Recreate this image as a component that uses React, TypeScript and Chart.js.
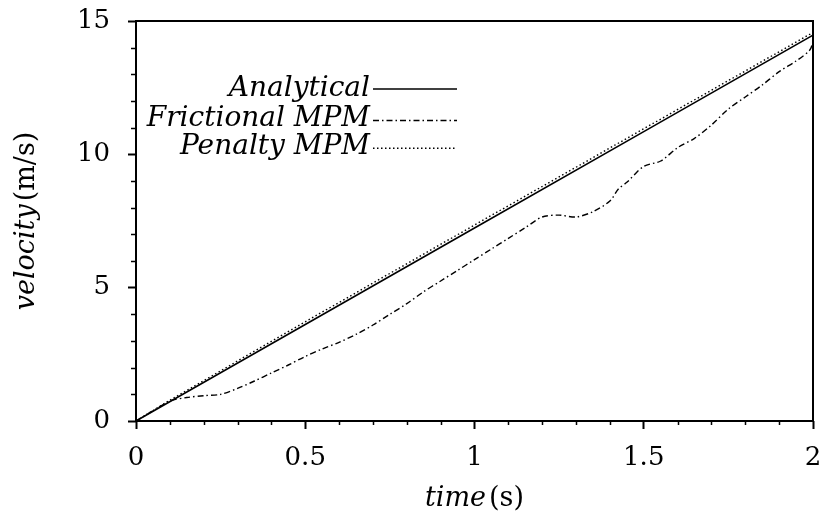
import React, { useEffect, useRef } from "react";
import { Chart, registerables } from "chart.js";

Chart.register(...registerables);

// ---- data ----
const seriesLabels = ["Analytical", "Frictional MPM", "Penalty MPM"];

const timeAnalytical = [0, 0.5, 1, 1.5, 2];
const velAnalytical = [0, 3.62, 7.24, 10.85, 14.47];

const timeFrictional = [
  0, 0.05, 0.1, 0.15, 0.2, 0.25, 0.3, 0.35, 0.4, 0.45, 0.5, 0.55, 0.6, 0.65,
  0.7, 0.75, 0.8, 0.85, 0.9, 0.95, 1.0, 1.05, 1.1, 1.15, 1.2, 1.25, 1.3, 1.35,
  1.4, 1.425, 1.45, 1.5, 1.55, 1.6, 1.65, 1.7, 1.75, 1.8, 1.85, 1.9, 1.95,
  1.99, 2.0,
];
const velFrictional = [
  0, 0.38, 0.75, 0.88, 0.95, 1.0, 1.22, 1.5, 1.8, 2.1, 2.42, 2.7, 2.95, 3.25,
  3.6, 4.0, 4.4, 4.85, 5.25, 5.65, 6.05, 6.45, 6.85, 7.25, 7.65, 7.72, 7.65,
  7.85, 8.25, 8.7, 8.95, 9.55, 9.75, 10.25, 10.6, 11.1, 11.7, 12.15, 12.6,
  13.1, 13.5, 13.9, 14.2,
];

const timePenalty = [0, 0.1, 0.5, 1, 1.5, 2];
const velPenalty = [0, 0.78, 3.72, 7.35, 10.96, 14.57];

const xMajorTicks = [0, 0.5, 1, 1.5, 2];
const xMinorTicks = [0.1, 0.2, 0.3, 0.4, 0.6, 0.7, 0.8, 0.9, 1.1, 1.2, 1.3, 1.4, 1.6, 1.7, 1.8, 1.9];
const yMajorTicks = [0, 5, 10, 15];
const yMinorTicks = [1, 2, 3, 4, 6, 7, 8, 9, 11, 12, 13, 14];

const xTitleItalic = "time";
const xTitleUnit = "(s)";
const yTitleItalic = "velocity";
const yTitleUnit = "(m/s)";

const SERIF = '"DejaVu Serif", serif';

function pts(xs: number[], ys: number[]) {
  return xs.map((x, i) => ({ x, y: ys[i] }));
}

const decorPlugin = {
  id: "decor",
  afterDraw(chart: any) {
    const ctx = chart.ctx as CanvasRenderingContext2D;
    const { left, top, right, bottom } = chart.chartArea;
    const xs = chart.scales.x;
    const ys = chart.scales.y;
    ctx.save();
    ctx.strokeStyle = "#000";
    ctx.lineWidth = 2;
    ctx.setLineDash([]);
    ctx.strokeRect(left, top, right - left, bottom - top);
    ctx.lineWidth = 1.5;
    ctx.beginPath();
    xMinorTicks.forEach((v) => {
      const px = Math.round(xs.getPixelForValue(v)) + 0.5;
      ctx.moveTo(px, bottom);
      ctx.lineTo(px, bottom + 4);
    });
    yMinorTicks.forEach((v) => {
      const py = Math.round(ys.getPixelForValue(v)) + 0.5;
      ctx.moveTo(left, py);
      ctx.lineTo(left - 5, py);
    });
    ctx.stroke();

    // legend: text right-aligned, sample line to its right
    const textRight = 370;
    const lineStart = 373;
    const lineEnd = 457;
    const lineY = [89, 120.5, 148.3];
    const baseY = [96, 126, 154];
    ctx.font = `italic 28px ${SERIF}`;
    ctx.fillStyle = "#000";
    ctx.textAlign = "right";
    ctx.textBaseline = "alphabetic";
    chart.data.datasets.forEach((ds: any, i: number) => {
      ctx.fillText(ds.label, textRight, baseY[i]);
      ctx.beginPath();
      ctx.lineWidth = ds.borderWidth;
      ctx.setLineDash(ds.borderDash || []);
      ctx.moveTo(lineStart, lineY[i]);
      ctx.lineTo(lineEnd, lineY[i]);
      ctx.stroke();
    });
    ctx.setLineDash([]);

    const drawMixed = (italic: string, unit: string) => {
      ctx.font = `italic 27px ${SERIF}`;
      const w1 = ctx.measureText(italic).width;
      ctx.font = `27px ${SERIF}`;
      const gap = 3;
      const w2 = ctx.measureText(unit).width;
      const total = w1 + gap + w2;
      ctx.textAlign = "left";
      ctx.font = `italic 27px ${SERIF}`;
      ctx.fillText(italic, -total / 2, 0);
      ctx.font = `27px ${SERIF}`;
      ctx.fillText(unit, -total / 2 + w1 + gap, 0);
    };
    ctx.save();
    ctx.translate((left + right) / 2, 506);
    drawMixed(xTitleItalic, xTitleUnit);
    ctx.restore();

    ctx.save();
    ctx.translate(34, (top + bottom) / 2);
    ctx.rotate(-Math.PI / 2);
    drawMixed(yTitleItalic, yTitleUnit);
    ctx.restore();

    ctx.restore();
  },
};

export default function App() {
  const ref = useRef<HTMLCanvasElement | null>(null);
  useEffect(() => {
    if (!ref.current) return;
    const chart = new Chart(ref.current, {
      type: "line",
      data: {
        datasets: [
          {
            label: seriesLabels[0],
            data: pts(timeAnalytical, velAnalytical),
            borderColor: "#000",
            borderWidth: 1.6,
            borderDash: [],
            pointRadius: 0,
            tension: 0,
            fill: false,
          },
          {
            label: seriesLabels[1],
            data: pts(timeFrictional, velFrictional),
            borderColor: "#000",
            borderWidth: 1.4,
            borderDash: [6, 3, 1.5, 3],
            pointRadius: 0,
            tension: 0.3,
            fill: false,
          },
          {
            label: seriesLabels[2],
            data: pts(timePenalty, velPenalty),
            borderColor: "#000",
            borderWidth: 1.4,
            borderDash: [1.5, 2.5],
            pointRadius: 0,
            tension: 0,
            fill: false,
          },
        ] as any,
      },
      options: {
        animation: false,
        responsive: false,
        maintainAspectRatio: false,
        layout: { padding: { left: 0, top: 21, right: 14, bottom: 0 } },
        plugins: { legend: { display: false }, tooltip: { enabled: false } },
        scales: {
          x: {
            type: "linear",
            min: 0,
            max: 2,
            afterBuildTicks: (scale: any) => {
              scale.ticks = xMajorTicks.map((v) => ({ value: v }));
            },
            afterFit: (scale: any) => {
              scale.height = 99;
              scale.paddingLeft = 0;
              scale.paddingRight = 0;
            },
            border: { display: false },
            grid: {
              drawOnChartArea: false,
              drawTicks: true,
              tickLength: 8,
              tickColor: "#000",
              tickWidth: 2,
            },
            ticks: {
              color: "#000",
              padding: 14,
              font: { family: SERIF, size: 26 },
              maxRotation: 0,
              callback: (v: any) => String(v),
            },
          },
          y: {
            type: "linear",
            min: 0,
            max: 15,
            afterBuildTicks: (scale: any) => {
              scale.ticks = yMajorTicks.map((v) => ({ value: v }));
            },
            afterFit: (scale: any) => {
              scale.width = 136;
              scale.paddingTop = 0;
              scale.paddingBottom = 0;
            },
            border: { display: false },
            grid: {
              drawOnChartArea: false,
              drawTicks: true,
              tickLength: 8,
              tickColor: "#000",
              tickWidth: 2,
            },
            ticks: {
              color: "#000",
              padding: 18,
              font: { family: SERIF, size: 26 },
              callback: (v: any) => String(v),
            },
          },
        },
      },
      plugins: [decorPlugin],
    });
    return () => chart.destroy();
  }, []);
  return (
    <div style={{ position: "fixed", left: 0, top: 0, width: 827, height: 520, background: "#fff" }}>
      <canvas ref={ref} width={827} height={520} style={{ display: "block" }} />
    </div>
  );
}
